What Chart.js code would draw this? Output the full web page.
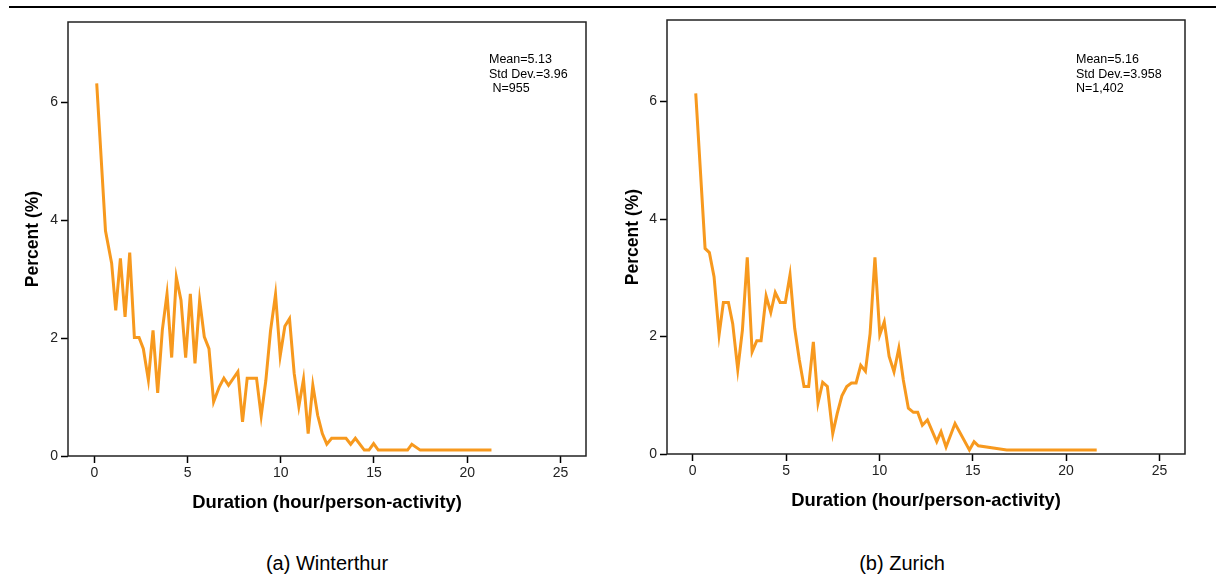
<!DOCTYPE html>
<html>
<head>
<meta charset="utf-8">
<script src="https://cdn.jsdelivr.net/npm/chart.js@4/dist/chart.umd.min.js"></script>
<style>
  html, body { margin:0; padding:0; background:#fff; }
  body { width:1216px; height:582px; position:relative; overflow:hidden; font-family:"Liberation Sans", Arial, sans-serif; }
  canvas { position:absolute; top:0; }
  #topline { position:absolute; left:9px; top:6px; width:1207px; height:2px; background:#000; }
  .stats { position:absolute; font-size:12.5px; line-height:14.5px; color:#000; white-space:pre; }
  .cap { position:absolute; top:550px; font-size:20px; line-height:26px; color:#000; transform:translateX(-50%); white-space:nowrap; }
</style>
</head>
<body>
<div id="topline"></div>
<canvas id="cA" width="608" height="520" style="left:0px;width:608px;height:520px;"></canvas>
<canvas id="cB" width="608" height="520" style="left:608px;width:608px;height:520px;"></canvas>
<div class="stats" style="left:489px;top:52px;">Mean=5.13
Std Dev.=3.96
 N=955</div>
<div class="stats" style="left:1076px;top:52px;">Mean=5.16
Std Dev.=3.958
N=1,402</div>
<div class="cap" style="left:327px;">(a) Winterthur</div>
<div class="cap" style="left:902px;">(b) Zurich</div>
<script>
// ---- Data ----
const durationA = [0.13,0.6,0.93,1.15,1.4,1.65,1.9,2.15,2.4,2.63,2.9,3.15,3.4,3.65,3.9,4.15,4.4,4.65,4.9,5.15,5.4,5.65,5.9,6.15,6.4,6.7,6.95,7.2,7.7,7.95,8.2,8.7,8.95,9.2,9.45,9.72,9.97,10.22,10.47,10.72,10.97,11.22,11.47,11.72,11.98,12.23,12.47,12.73,13.5,13.75,14.0,14.48,14.73,14.98,15.23,16.8,17.03,17.48,21.3];
const percentA  = [6.32,3.82,3.27,2.47,3.35,2.36,3.45,2.01,2.01,1.82,1.29,2.13,1.07,2.14,2.75,1.67,3.03,2.64,1.67,2.75,1.57,2.64,2.02,1.82,0.92,1.17,1.32,1.20,1.43,0.58,1.32,1.32,0.68,1.28,2.12,2.74,1.70,2.20,2.33,1.40,0.84,1.30,0.38,1.20,0.69,0.38,0.20,0.30,0.30,0.20,0.30,0.10,0.10,0.21,0.10,0.10,0.20,0.10,0.10];
const durationB = [0.16,0.66,0.89,1.14,1.41,1.64,1.91,2.14,2.41,2.66,2.92,3.18,3.43,3.66,3.93,4.18,4.42,4.68,4.96,5.21,5.46,5.71,5.96,6.21,6.46,6.71,6.96,7.21,7.5,7.74,7.99,8.25,8.5,8.75,9.0,9.25,9.5,9.76,10.02,10.26,10.52,10.78,11.04,11.28,11.55,11.82,12.05,12.3,12.57,13.07,13.3,13.57,14.05,14.82,15.07,15.3,16.82,21.64];
const percentB  = [6.14,3.50,3.43,3.02,2.03,2.58,2.58,2.22,1.44,2.11,3.35,1.74,1.93,1.93,2.69,2.41,2.75,2.58,2.58,3.05,2.14,1.60,1.15,1.15,1.91,0.87,1.22,1.15,0.35,0.69,0.99,1.15,1.21,1.21,1.51,1.41,2.05,3.35,2.03,2.25,1.66,1.40,1.80,1.26,0.78,0.71,0.71,0.49,0.58,0.21,0.38,0.12,0.52,0.07,0.21,0.14,0.07,0.07];
const xTicks = [0,5,10,15,20,25];
const yTicks = [0,2,4,6];
const xTitle = "Duration (hour/person-activity)";
const yTitle = "Percent (%)";

const FONT = "'Liberation Sans', Arial, sans-serif";
const LINE_COLOR = "rgb(247,153,30)";

const boxPlugin = {
  id: 'box',
  afterDraw(chart) {
    const a = chart.chartArea, ctx = chart.ctx;
    ctx.save();
    ctx.strokeStyle = '#222';
    ctx.lineWidth = 1.5;
    ctx.strokeRect(a.left, a.top, a.right - a.left, a.bottom - a.top);
    ctx.restore();
  }
};

function makeChart(id, xs, ys, cfg) {
  const pts = xs.map((x, i) => ({x: x, y: ys[i]}));
  return new Chart(document.getElementById(id), {
    type: 'scatter',
    data: { datasets: [{
      data: pts, showLine: true, pointRadius: 0, borderColor: LINE_COLOR,
      borderWidth: 3, tension: 0, borderJoinStyle: 'miter', fill: false
    }]},
    options: {
      responsive: false, animation: false, devicePixelRatio: 1,
      layout: { padding: { top: cfg.padTop, right: cfg.padRight, left: 0, bottom: 0 } },
      plugins: { legend: { display: false }, tooltip: { enabled: false } },
      scales: {
        x: {
          type: 'linear', min: cfg.xmin, max: cfg.xmax,
          afterBuildTicks: s => { s.ticks = xTicks.map(v => ({value: v})); },
          afterFit: s => { s.height = cfg.xAxisH; },
          border: { display: false },
          grid: { drawOnChartArea: false, drawTicks: true, tickLength: 7, tickColor: '#000', tickWidth: 1.5 },
          ticks: { color: '#222', font: { family: FONT, size: 14 }, padding: 2, maxRotation: 0 },
          title: { display: true, text: xTitle, color: '#000', font: { family: FONT, size: 18.4, weight: 'bold' }, padding: { top: 0, bottom: cfg.xTitlePad } }
        },
        y: {
          type: 'linear', min: 0, max: cfg.ymax,
          afterBuildTicks: s => { s.ticks = yTicks.map(v => ({value: v})); },
          afterFit: s => { s.width = cfg.yAxisW; },
          border: { display: false },
          grid: { drawOnChartArea: false, drawTicks: true, tickLength: 7, tickColor: '#000', tickWidth: 1.5 },
          ticks: { color: '#222', font: { family: FONT, size: 14 }, padding: 3 },
          title: { display: true, text: yTitle, color: '#000', font: { family: FONT, size: 17.5, weight: 'bold' }, padding: { top: cfg.yTitlePad, bottom: 0 } }
        }
      }
    },
    plugins: [boxPlugin]
  });
}

makeChart('cA', durationA, percentA, {
  padTop: 22, padRight: 22, xAxisH: 64, yAxisW: 68,
  xmin: -1.41, xmax: 26.37, ymax: 7.36, xTitlePad: 6, yTitlePad: 22.5
});
makeChart('cB', durationB, percentB, {
  padTop: 20, padRight: 31, xAxisH: 66, yAxisW: 59,
  xmin: -1.38, xmax: 26.37, ymax: 7.39, xTitlePad: 8, yTitlePad: 14.5
});
</script>
</body>
</html>
